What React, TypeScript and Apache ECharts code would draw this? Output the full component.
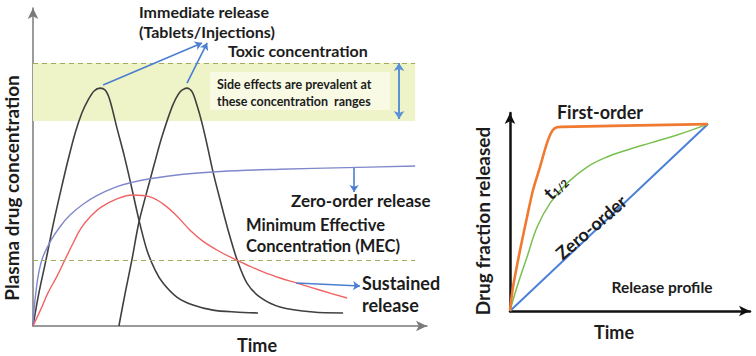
import React, { useEffect, useRef } from 'react';
import * as echarts from 'echarts';

// ---- Left panel: plasma concentration profiles (x: time 0-100, y: concentration 0-100)
const immediateRelease1 = [
  [0, 0], [1.5, 10.4], [3.3, 20.8], [5.1, 31.8], [7.1, 42.8], [8.9, 52.2], [10.7, 60.7],
  [12.4, 67.0], [14.0, 71.1], [15.5, 73.9], [17.0, 74.8], [18.3, 74.2], [19.5, 71.1],
  [21.3, 62.3], [23.1, 53.8], [24.9, 44.3], [26.9, 33.3], [28.9, 23.9], [31.0, 17.6],
  [33.0, 13.5], [36.5, 9.1], [40.6, 6.6], [45.7, 5.0], [51.3, 4.4], [57.1, 4.1],
];
const immediateRelease2 = [
  [21.8, 0], [23.4, 10.4], [25.1, 20.8], [26.9, 32.7], [29.7, 45.9], [31.2, 52.8], [32.7, 59.4],
  [35.3, 68.9], [37.3, 73.6], [39.1, 74.8], [40.4, 73.6], [41.6, 69.5], [42.9, 63.8],
  [44.2, 56.9], [45.7, 48.4], [47.5, 39.6], [49.5, 30.2], [51.8, 20.8], [54.3, 13.5],
  [57.6, 9.1], [62.7, 6.0], [71.1, 4.4], [78.7, 4.1],
];
const zeroOrderRelease = [
  [0, 0], [0.25, 5.0], [0.8, 11.3], [1.5, 17.0], [2.5, 21.7], [4.6, 27.0], [6.9, 31.3],
  [9.4, 34.9], [12.7, 38.3], [16.2, 41.0], [20.8, 43.6], [24.6, 45.0], [29.7, 46.3],
  [38.1, 47.7], [47.5, 48.6], [62.7, 49.3], [79.7, 49.8], [97.0, 50.3],
];
const sustainedRelease = [
  [0, 0], [2.0, 5.3], [3.8, 10.4], [6.1, 15.7], [8.1, 20.8], [10.2, 26.1], [12.2, 30.8],
  [14.7, 34.6], [17.3, 37.4], [21.3, 40.0], [25.4, 41.2], [29.7, 40.6], [33.0, 38.4],
  [36.5, 34.6], [39.8, 30.2], [43.1, 26.7], [46.7, 23.9], [50.0, 21.7], [53.8, 19.5],
  [58.4, 17.0], [62.7, 15.1], [67.0, 13.5], [73.6, 11.0], [79.7, 8.8],
];
const toxicUpper = 82.7;
const toxicLower = 64.5;
const mecLevel = 20.8;
const bandEnd = 97;
const annotationArrows = [
  [[17.8, 75.8], [42.9, 89.0]],
  [[39.1, 76.4], [44.2, 89.0]],
  [[81.5, 49.7], [81.5, 42.1]],
  [[66.8, 13.5], [83.0, 12.6]],
];
const rangeArrow = [[92.9, 82.7], [92.9, 65.1]];

// ---- Right panel: release profiles (x: time, y: fraction released)
const firstOrderProfile = [
  [0, 0], [1.25, 12.1], [4.2, 30.8], [7.1, 47.5], [9.6, 61.1], [12.5, 72.7], [15.4, 84.8],
  [17.6, 91.0], [19.5, 92.8], [21.5, 93.0], [82.5, 94.4],
];
const halfLifeProfile = [
  [0, 0], [2.9, 12.1], [7.1, 27.3], [11.3, 42.4], [16.7, 54.5], [23.8, 64.6], [32.1, 72.7],
  [40.4, 77.8], [48.8, 81.3], [58.3, 84.8], [69.6, 88.9], [82.5, 94.4],
];
const zeroOrderProfile = [[0, 0], [82.5, 94.4]];

const FONT = 'Lato';
const TEXT = '#1c1c1c';

function axis(gridIndex: number, color: string, width: number) {
  return {
    type: 'value', gridIndex, min: 0, max: 100,
    axisLine: { show: true, onZero: false, symbol: ['none', 'arrow'], symbolSize: [8, 11], lineStyle: { color, width } },
    axisTick: { show: false }, axisLabel: { show: false }, splitLine: { show: false },
  };
}

function txt(text: string, x: number, y: number, size: number, extra: any = {}, rotation = 0) {
  return {
    type: 'text', x, y, z: 20, rotation,
    style: { text, fontFamily: FONT, fontWeight: 'bold', fontSize: size, fill: TEXT, align: 'left', verticalAlign: 'middle', ...extra },
  };
}

export default function App() {
  const ref = useRef<HTMLDivElement>(null);
  useEffect(() => {
    document.body.style.margin = '0';
    const chart = echarts.init(ref.current!, null, { renderer: 'svg' });
    const blue = '#4a7fd0';
    const line = (data: number[][], color: string, width: number, gi: number, smooth: any = 0.4) => ({
      type: 'line', data, xAxisIndex: gi, yAxisIndex: gi, showSymbol: false, symbol: 'none',
      smooth, lineStyle: { color, width }, z: 3, silent: true,
    });
    chart.setOption({
      animation: false,
      backgroundColor: '#ffffff',
      grid: [
        { left: 33, right: 329, top: 8, bottom: 30 },
        { left: 510, right: 6, top: 113, bottom: 45 },
      ],
      xAxis: [axis(0, '#7a7a7a', 1.5), axis(1, '#111111', 2.5)],
      yAxis: [axis(0, '#7a7a7a', 1.5), axis(1, '#111111', 2.5)],
      series: [
        {
          type: 'line', data: [], xAxisIndex: 0, yAxisIndex: 0, z: 1, silent: true,
          markArea: {
            silent: true, itemStyle: { color: '#eff3c8' },
            data: [[{ coord: [0, toxicUpper] }, { coord: [bandEnd, toxicLower] }]],
          },
          markLine: {
            silent: true, symbol: ['none', 'none'], label: { show: false },
            lineStyle: { color: '#a4a860', width: 1.2, type: [5, 4] },
            data: [
              [{ coord: [0, toxicUpper] }, { coord: [bandEnd, toxicUpper] }],
              [{ coord: [0, mecLevel] }, { coord: [bandEnd, mecLevel] }],
            ],
          },
        },
        line(immediateRelease1, '#404040', 1.6, 0, 0.3),
        line(immediateRelease2, '#404040', 1.6, 0, 0.3),
        line(zeroOrderRelease, '#7f88cc', 1.4, 0, 0.4),
        line(sustainedRelease, '#f06464', 1.4, 0, 0.4),
        {
          type: 'line', data: [], xAxisIndex: 0, yAxisIndex: 0, z: 4, silent: true,
          markLine: {
            silent: true, symbol: ['none', 'arrow'], symbolSize: 7, label: { show: false },
            lineStyle: { color: blue, width: 1.6, type: 'solid' },
            data: annotationArrows.map(([a, b]) => [{ coord: a }, { coord: b }]),
          },
        },
        {
          type: 'line', data: [], xAxisIndex: 0, yAxisIndex: 0, z: 25, silent: true,
          markLine: {
            silent: true, symbol: ['arrow', 'arrow'], symbolSize: 8, label: { show: false },
            lineStyle: { color: '#5a92d8', width: 2, type: 'solid' },
            data: [[{ coord: rangeArrow[0] }, { coord: rangeArrow[1] }]],
          },
        },
        line(zeroOrderProfile, '#4a80d8', 2, 1, false),
        line(halfLifeProfile, '#78c050', 1.5, 1, 0.4),
        line(firstOrderProfile, '#f07a30', 2.6, 1, 0.3),
      ],
      graphic: [
        { type: 'rect', z: 15, shape: { x: 210, y: 72, width: 180, height: 38 }, style: { fill: '#f8fae3' } },
        txt('Plasma drug concentration', 11, 188, 19, { align: 'center' }, Math.PI / 2),
        txt('Immediate release', 139, 11, 16),
        txt('(Tablets/Injections)', 139, 31, 16),
        txt('Toxic concentration', 228, 50, 16),
        txt('Side effects are prevalent at', 217, 84, 12.5),
        txt('these concentration  ranges', 217, 101, 12.5),
        txt('Zero-order release', 291, 200, 17),
        txt('Minimum Effective', 246, 225, 16.5),
        txt('Concentration (MEC)', 246, 246, 16.5),
        txt('Sustained', 362, 283, 18),
        txt('release', 362, 305, 18),
        txt('Time', 257, 345, 18, { align: 'center' }),
        txt('Drug fraction released', 482, 221, 19, { align: 'center' }, Math.PI / 2),
        txt('First-order', 600, 112, 18, { align: 'center' }),
        txt('Release profile', 662, 287, 15.5, { align: 'center' }),
        txt('Zero-order', 591, 227, 18, { align: 'center' }, (41 * Math.PI) / 180),
        {
          type: 'text', x: 555, y: 187, z: 20, rotation: (45 * Math.PI) / 180,
          style: {
            text: '{t|t}{s|1/2}', align: 'center', verticalAlign: 'middle',
            rich: {
              t: { fontFamily: FONT, fontWeight: 'bold', fontSize: 19, fill: TEXT },
              s: { fontFamily: FONT, fontWeight: 'bold', fontSize: 11, fill: TEXT, padding: [8, 0, 0, 0] },
            },
          },
        },
        txt('Time', 614, 332, 18, { align: 'center' }),
      ],
    });
    return () => chart.dispose();
  }, []);
  return <div ref={ref} style={{ width: 756, height: 356 }} />;
}
